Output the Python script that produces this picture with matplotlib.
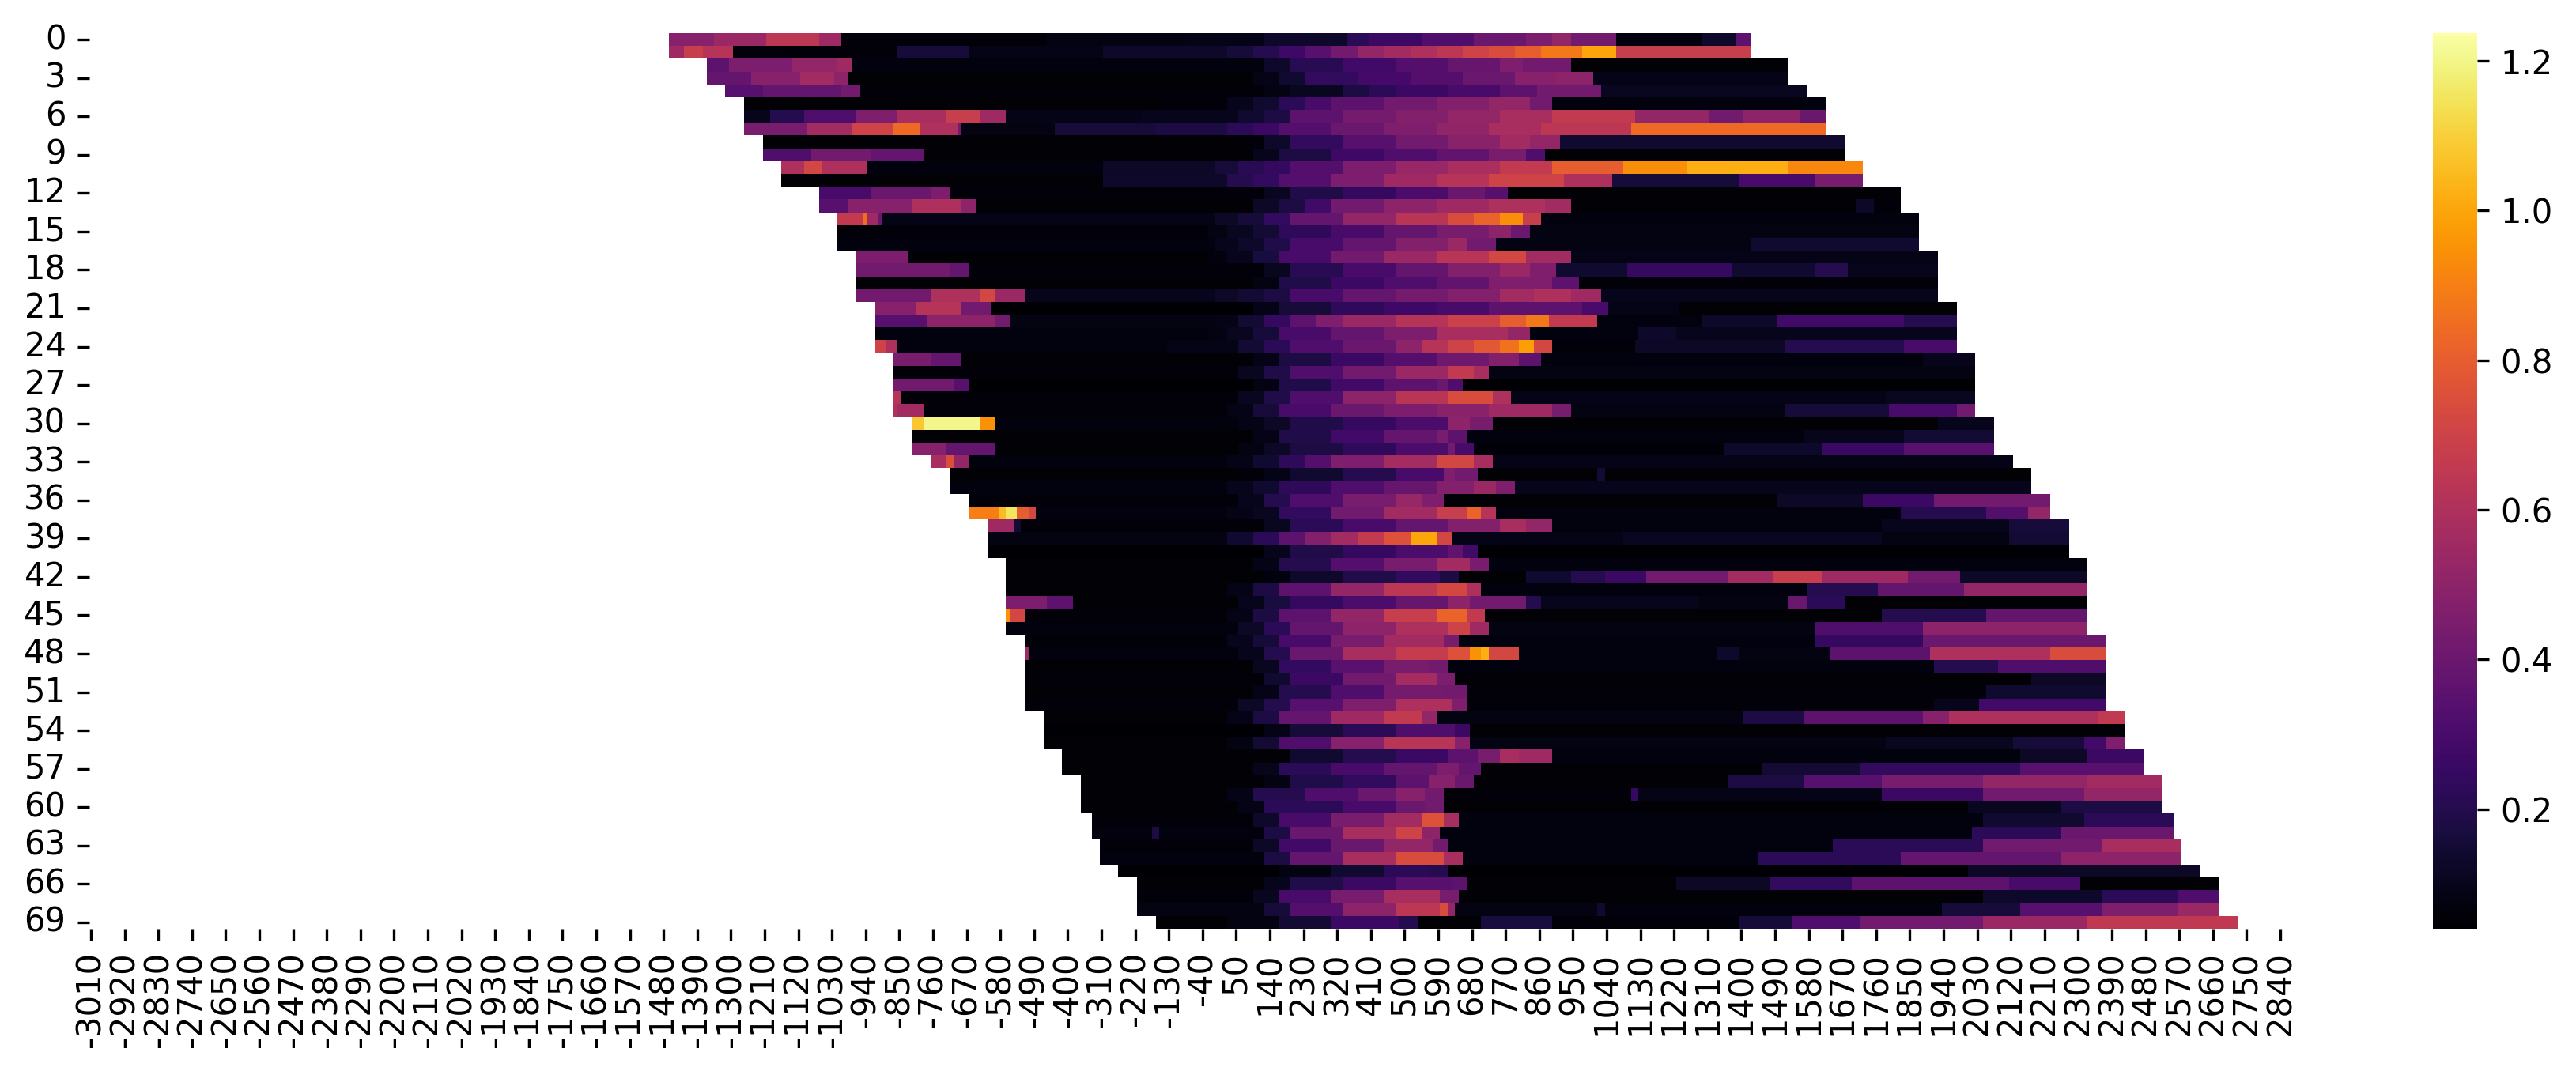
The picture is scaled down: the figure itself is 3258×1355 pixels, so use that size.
import numpy as np
import pandas as pd
import seaborn as sns
import matplotlib
matplotlib.use("Agg")
import matplotlib.pyplot as plt

x_bins = np.arange(-3010, 2850, 10)
vmin_val = 0.04
vmax_val = 1.237

# first x bin of every row
row_start = [-1460, -1460, -1360, -1360, -1310, -1260, -1260, -1260, -1210, -1210,
             -1160, -1160, -1060, -1060, -1010, -1010, -1010, -960, -960, -960,
             -960, -910, -910, -910, -910, -860, -860, -860, -860, -860,
             -810, -810, -810, -760, -710, -710, -660, -660, -610, -610,
             -610, -560, -560, -560, -560, -560, -560, -510, -510, -510,
             -510, -510, -510, -460, -460, -460, -410, -410, -360, -360,
             -360, -330, -330, -310, -310, -260, -210, -210, -210, -160]

# each row: (x where the value stops, value)
r00 = [(-1340,.48),(-1200,.54),(-1060,.64),(-1000,.55),(-450,.06),(-80,.08),(130,.09),(350,.13),(410,.22),(550,.26),(690,.32),(830,.4),(900,.45),(950,.52),(1070,.42),(1300,.07),(1390,.13),(1430,.36)]
r01 = [(-1420,.55),(-1370,.68),(-1290,.62),(-850,.06),(-660,.16),(-300,.09),(30,.13),(100,.16),(170,.2),(240,.27),(310,.34),(380,.42),(450,.52),(520,.56),(590,.6),(660,.64),(730,.7),(800,.74),(870,.8),(980,.88),(1070,1.0),(1430,.68)]
r02 = [(-1300,.36),(-1130,.45),(-1010,.52),(-970,.55),(130,.07),(200,.13),(340,.21),(480,.28),(620,.33),(760,.39),(820,.46),(950,.42),(1530,.05)]
r03 = [(-1240,.38),(-1110,.48),(-1020,.56),(-980,.5),(100,.05),(170,.09),(240,.14),(380,.24),(520,.29),(660,.33),(800,.4),(910,.48),(1010,.5),(1530,.09)]
r04 = [(-1210,.34),(-1000,.38),(-950,.42),(130,.06),(200,.08),(340,.11),(410,.18),(480,.22),(620,.26),(760,.3),(860,.36),(920,.42),(1030,.42),(1580,.11)]
r05 = [(-150,.05),(30,.06),(100,.1),(170,.14),(240,.22),(310,.3),(450,.36),(590,.42),(730,.47),(840,.52),(900,.42),(1630,.07)]
r06 = [(-1190,.1),(-1100,.2),(-960,.32),(-850,.46),(-720,.58),(-630,.68),(-560,.55),(-200,.09),(60,.1),(130,.14),(200,.18),(340,.36),(480,.43),(620,.47),(760,.52),(900,.58),(1120,.66),(1320,.52),(1410,.42),(1560,.5),(1630,.4)]
r07 = [(-1090,.44),(-970,.56),(-860,.7),(-790,.84),(-690,.6),(-680,.42),(-430,.08),(-160,.16),(30,.18),(100,.22),(170,.26),(310,.33),(450,.4),(590,.46),(730,.51),(870,.58),(1110,.64),(1630,.84)]
r08 = [(60,.05),(130,.06),(200,.13),(340,.24),(480,.34),(620,.42),(760,.49),(840,.56),(920,.52),(1680,.14)]
r09 = [(-1080,.32),(-920,.42),(-780,.38),(100,.05),(170,.1),(310,.18),(450,.27),(590,.32),(730,.37),(830,.44),(880,.32),(1680,.05)]
r10 = [(-1100,.6),(-1050,.72),(-930,.6),(-300,.07),(0,.12),(60,.16),(130,.21),(200,.25),(340,.33),(480,.45),(620,.53),(760,.59),(900,.66),(1090,.8),(1260,.94),(1530,1.02),(1730,.92)]
r11 = [(-300,.05),(30,.13),(100,.2),(170,.24),(310,.33),(450,.45),(590,.55),(730,.62),(930,.7),(1060,.6),(1400,.16),(1600,.3),(1730,.44)]
r12 = [(-920,.3),(-760,.4),(-710,.45),(130,.06),(200,.11),(340,.19),(480,.25),(620,.31),(720,.4),(780,.34),(1830,.05)]
r13 = [(-980,.34),(-810,.48),(-680,.6),(-640,.5),(100,.05),(170,.12),(240,.18),(310,.28),(450,.42),(590,.5),(730,.55),(880,.6),(950,.56),(1710,.05),(1760,.12),(1830,.06)]
r14 = [(-940,.66),(-930,.85),(-900,.55),(-890,.4),(0,.09),(60,.12),(130,.16),(200,.24),(340,.38),(480,.52),(620,.63),(690,.74),(760,.82),(820,.94),(870,.68),(1880,.07)]
r15 = [(-20,.06),(30,.08),(100,.11),(170,.15),(310,.23),(450,.3),(590,.38),(730,.44),(790,.5),(840,.4),(1880,.08)]
r16 = [(0,.07),(60,.1),(130,.13),(200,.19),(340,.3),(480,.38),(620,.47),(670,.54),(750,.42),(1430,.08),(1880,.14)]
r17 = [(-820,.45),(-20,.05),(30,.07),(100,.1),(170,.17),(310,.3),(450,.42),(590,.54),(730,.63),(830,.72),(950,.56),(1930,.09)]
r18 = [(-710,.42),(-660,.38),(130,.06),(200,.11),(340,.21),(480,.3),(620,.38),(760,.47),(840,.54),(910,.46),(1100,.14),(1380,.25),(1600,.14),(1690,.2),(1930,.1)]
r19 = [(100,.05),(170,.08),(310,.19),(450,.26),(590,.32),(730,.37),(900,.46),(970,.36),(1930,.06)]
r20 = [(-760,.42),(-630,.6),(-590,.72),(-510,.54),(0,.1),(60,.12),(130,.15),(200,.18),(340,.3),(480,.38),(620,.43),(760,.47),(850,.56),(950,.6),(1030,.55),(1930,.1)]
r21 = [(-800,.48),(-680,.62),(-600,.42),(100,.04),(170,.09),(310,.16),(450,.23),(590,.27),(730,.3),(980,.36),(1050,.3),(1240,.09),(1980,.05)]
r22 = [(-770,.34),(-590,.5),(-550,.42),(0,.08),(60,.09),(130,.15),(200,.25),(270,.36),(340,.46),(480,.54),(620,.62),(760,.69),(830,.8),(890,.88),(1020,.66),(1300,.07),(1500,.13),(1840,.28),(1980,.2)]
r23 = [(-20,.07),(30,.08),(100,.11),(170,.16),(310,.3),(450,.38),(590,.45),(780,.58),(840,.52),(1130,.07),(1230,.13),(1980,.1)]
r24 = [(-880,.7),(-850,.6),(-130,.07),(60,.09),(130,.15),(200,.22),(340,.32),(480,.4),(550,.5),(620,.62),(690,.7),(760,.78),(810,.86),(850,.98),(900,.72),(1120,.06),(1520,.12),(1840,.2),(1980,.3)]
r25 = [(-760,.44),(-680,.38),(100,.05),(170,.09),(310,.18),(450,.26),(590,.33),(730,.41),(810,.47),(870,.36),(1890,.07),(2030,.1)]
r26 = [(60,.06),(130,.11),(200,.19),(340,.32),(480,.42),(620,.54),(690,.66),(730,.58),(2030,.08)]
r27 = [(-700,.42),(-660,.34),(100,.04),(170,.08),(310,.19),(450,.28),(590,.36),(620,.4),(660,.32),(2030,.04)]
r28 = [(-840,.62),(60,.06),(130,.11),(200,.19),(340,.32),(480,.5),(620,.63),(740,.74),(790,.6),(1790,.09),(2030,.11)]
r29 = [(-850,.6),(-780,.56),(30,.06),(100,.09),(170,.16),(310,.3),(450,.4),(590,.45),(730,.49),(900,.55),(950,.44),(1520,.08),(1800,.16),(1980,.3),(2030,.42)]
r30 = [(-780,1.08),(-630,1.2),(-590,.95),(60,.07),(130,.09),(200,.12),(340,.19),(480,.25),(620,.31),(680,.5),(740,.44),(1930,.05),(2080,.1)]
r31 = [(100,.05),(170,.09),(310,.19),(450,.28),(590,.38),(620,.44),(670,.36),(1570,.07),(1840,.1),(2080,.15)]
r32 = [(-720,.48),(-590,.38),(60,.05),(130,.08),(200,.12),(340,.18),(480,.23),(620,.31),(640,.42),(690,.3),(1360,.06),(1620,.13),(1840,.26),(2080,.34)]
r33 = [(-720,.58),(-700,.75),(-660,.52),(30,.07),(100,.09),(170,.14),(240,.23),(310,.33),(450,.46),(590,.57),(690,.72),(740,.58),(2130,.09)]
r34 = [(60,.05),(130,.06),(200,.09),(340,.14),(480,.2),(610,.3),(640,.46),(700,.42),(1020,.05),(1040,.15),(2180,.05)]
r35 = [(30,.07),(100,.1),(170,.14),(310,.23),(450,.32),(590,.39),(690,.47),(750,.54),(800,.46),(2180,.1)]
r36 = [(60,.06),(130,.1),(200,.2),(340,.32),(480,.44),(550,.53),(610,.46),(1500,.05),(1730,.12),(1920,.26),(2230,.42)]
r37 = [(-580,.9),(-560,1.05),(-530,1.15),(-500,.8),(-480,.72),(30,.07),(100,.09),(170,.11),(310,.24),(450,.42),(590,.56),(670,.68),(710,.82),(750,.62),(1830,.07),(2060,.2),(2170,.33),(2230,.52)]
r38 = [(-540,.55),(-520,.15),(130,.06),(200,.11),(340,.22),(480,.3),(620,.38),(760,.47),(830,.58),(900,.52),(1780,.07),(2120,.1),(2280,.16)]
r39 = [(30,.08),(100,.14),(170,.22),(240,.36),(310,.47),(380,.56),(450,.66),(520,.76),(590,1.0),(630,.72),(1090,.09),(1780,.11),(2120,.08),(2280,.15)]
r40 = [(130,.04),(200,.1),(340,.19),(480,.25),(620,.31),(660,.37),(700,.28),(2280,.04)]
r41 = [(100,.05),(170,.09),(310,.2),(450,.33),(590,.44),(680,.56),(730,.44),(2330,.07)]
r42 = [(130,.05),(200,.07),(340,.13),(480,.19),(600,.24),(650,.18),(830,.05),(950,.14),(1040,.2),(1150,.26),(1370,.42),(1490,.56),(1620,.68),(1850,.55),(1990,.42),(2330,.12)]
r43 = [(30,.05),(100,.09),(170,.18),(310,.36),(450,.52),(590,.64),(670,.72),(710,.6),(1580,.07),(1770,.2),(2000,.38),(2330,.52)]
r44 = [(-450,.45),(-380,.36),(60,.05),(130,.1),(200,.17),(340,.25),(480,.31),(620,.39),(680,.5),(830,.42),(870,.2),(1290,.1),(1530,.08),(1580,.4),(1680,.22),(2330,.05)]
r45 = [(-550,.95),(-510,.72),(30,.06),(100,.09),(170,.18),(310,.36),(450,.52),(590,.68),(670,.82),(720,.66),(1780,.05),(2060,.2),(2330,.38)]
r46 = [(60,.07),(130,.12),(200,.22),(340,.38),(480,.5),(620,.6),(680,.7),(730,.55),(1600,.08),(1890,.32),(2330,.5)]
r47 = [(30,.06),(100,.1),(170,.16),(310,.3),(450,.44),(610,.56),(650,.44),(1600,.07),(1890,.25),(2380,.4)]
r48 = [(-500,.55),(60,.07),(130,.1),(200,.2),(340,.4),(480,.58),(620,.67),(680,.76),(710,.95),(730,1.02),(810,.72),(1340,.07),(1400,.13),(1640,.08),(1910,.36),(2230,.6),(2380,.74)]
r49 = [(100,.05),(170,.11),(310,.24),(450,.35),(570,.44),(620,.42),(1920,.07),(2090,.2),(2380,.32)]
r50 = [(130,.06),(200,.14),(340,.26),(480,.42),(590,.57),(640,.45),(2180,.05),(2380,.12)]
r51 = [(100,.05),(170,.09),(310,.2),(450,.32),(610,.43),(670,.42),(2060,.06),(2380,.14)]
r52 = [(60,.06),(130,.12),(200,.2),(340,.34),(480,.46),(630,.6),(670,.46),(1920,.06),(2040,.1),(2380,.28)]
r53 = [(30,.05),(100,.09),(170,.18),(310,.38),(450,.55),(550,.66),(590,.52),(1410,.08),(1570,.18),(1890,.36),(1960,.48),(2360,.6),(2430,.66)]
r54 = [(130,.04),(200,.09),(340,.16),(480,.22),(640,.32),(680,.26),(2430,.05)]
r55 = [(30,.05),(100,.08),(170,.15),(310,.32),(450,.48),(640,.63),(680,.48),(1790,.08),(2130,.11),(2320,.16),(2380,.28),(2430,.46)]
r56 = [(200,.05),(340,.14),(480,.2),(620,.26),(700,.36),(760,.44),(810,.58),(900,.55),(2150,.07),(2330,.12),(2480,.26)]
r57 = [(100,.05),(170,.1),(310,.22),(450,.3),(590,.38),(650,.45),(710,.38),(1460,.05),(1720,.15),(2150,.24),(2480,.34)]
r58 = [(130,.05),(200,.08),(340,.19),(480,.24),(570,.36),(640,.48),(690,.4),(1370,.05),(1570,.18),(1780,.34),(2050,.44),(2330,.52),(2530,.56)]
r59 = [(30,.05),(100,.09),(240,.2),(380,.32),(480,.4),(560,.48),(610,.42),(1110,.06),(1130,.25),(1780,.09),(2050,.26),(2320,.42),(2530,.52)]
r60 = [(60,.05),(130,.09),(340,.22),(480,.3),(560,.4),(610,.42),(2010,.05),(2260,.11),(2530,.18)]
r61 = [(100,.06),(170,.13),(310,.3),(450,.44),(550,.56),(610,.76),(650,.58),(2050,.07),(2320,.14),(2560,.22)]
r62 = [(-170,.07),(-150,.18),(130,.07),(200,.18),(340,.4),(480,.58),(550,.7),(600,.5),(2020,.07),(2260,.22),(2560,.4)]
r63 = [(100,.06),(170,.12),(310,.28),(450,.4),(580,.52),(620,.42),(1650,.07),(2050,.22),(2370,.42),(2580,.58)]
r64 = [(130,.07),(200,.18),(340,.38),(480,.58),(610,.74),(660,.58),(1450,.07),(1830,.22),(2260,.38),(2580,.5)]
r65 = [(170,.04),(310,.08),(450,.14),(570,.22),(620,.2),(2010,.04),(2630,.12)]
r66 = [(130,.05),(200,.1),(340,.19),(480,.26),(630,.34),(670,.36),(1230,.05),(1480,.12),(1700,.24),(2120,.36),(2310,.3),(2680,.05)]
r67 = [(100,.06),(170,.11),(310,.3),(450,.44),(600,.58),(650,.44),(2050,.05),(2370,.13),(2570,.22),(2680,.32)]
r68 = [(130,.08),(200,.16),(340,.33),(480,.5),(600,.64),(620,.74),(640,.52),(1020,.08),(1040,.14),(1940,.07),(2150,.16),(2370,.34),(2570,.46),(2680,.54)]
r69 = [(30,.05),(170,.08),(310,.15),(490,.26),(540,.2),(710,.05),(900,.17),(1400,.06),(1540,.16),(1720,.32),(2050,.42),(2330,.54),(2730,.65)]

rows = [r00, r01, r02, r03, r04, r05, r06, r07, r08, r09,
        r10, r11, r12, r13, r14, r15, r16, r17, r18, r19,
        r20, r21, r22, r23, r24, r25, r26, r27, r28, r29,
        r30, r31, r32, r33, r34, r35, r36, r37, r38, r39,
        r40, r41, r42, r43, r44, r45, r46, r47, r48, r49,
        r50, r51, r52, r53, r54, r55, r56, r57, r58, r59,
        r60, r61, r62, r63, r64, r65, r66, r67, r68, r69]

# blank cells outside each row's range stay white
mat = np.full((len(rows), len(x_bins)), np.nan)
for i, segs in enumerate(rows):
    prev = row_start[i]
    for stop, val in segs:
        mat[i, (x_bins >= prev) & (x_bins < stop)] = val
        prev = stop
df = pd.DataFrame(mat, columns=x_bins)

W, H = 3258, 1355
fig = plt.figure(figsize=(W / 300, H / 300), dpi=300)
ax = fig.add_axes([112.6 / W, 1 - 1175 / H, 2773.8 / W, 1133 / H])
cax = fig.add_axes([3077 / W, 1 - 1175 / H, 56 / W, 1133 / H])

sns.heatmap(df, cmap="inferno", vmin=vmin_val, vmax=vmax_val, xticklabels=9, yticklabels=3,
            ax=ax, cbar_ax=cax)
ax.tick_params(axis="x", labelrotation=90)
ax.tick_params(axis="y", labelrotation=0)

fig.savefig("out.png", dpi=300)
